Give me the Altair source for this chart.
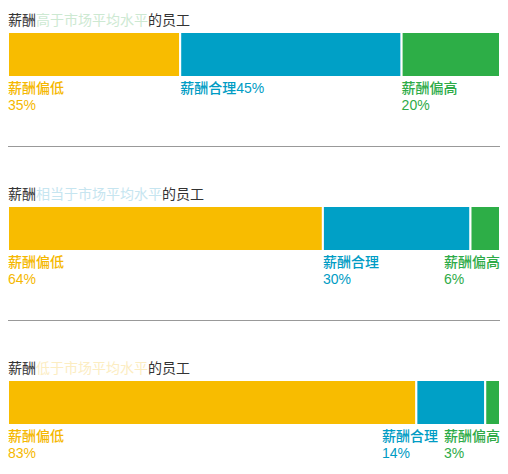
import altair as alt
import pandas as pd

# ---------------- data ----------------
groups = ["高于市场平均水平", "相当于市场平均水平", "低于市场平均水平"]
title_prefix = "薪酬"
title_suffix = "的员工"
categories = ["薪酬偏低", "薪酬合理", "薪酬偏高"]
values_high = [35, 45, 20]
values_equal = [64, 30, 6]
values_low = [83, 14, 3]
group_values = [values_high, values_equal, values_low]
# separator between category name and percentage in each label
label_joiners = [["\n", "", "\n"], ["\n", "\n", "\n"], ["\n", "\n", "\n"]]

bar_colors = ["#F8BC00", "#00A0C6", "#2DAE47"]
label_colors = ["#F5B800", "#009CC4", "#2EAB48"]
title_hint_colors = ["#CDE9D2", "#C6E5F0", "#FCEDC2"]
title_dark = "#333333"

W = 492
H = 458
FS = 14
FONT = "'Liberation Sans', 'Noto Sans CJK SC', sans-serif"


def text_width(s):
    w = 0
    for c in s:
        if ord(c) > 255:
            w += FS
        elif c == "%":
            w += 12.45
        else:
            w += 7.8
    return w


bar_rows, label_rows, title_rows = [], [], []
for g, (grp, vals) in enumerate(zip(groups, group_values)):
    starts = []
    acc = 0
    for i, v in enumerate(vals):
        bar_rows.append({"group": grp, "cat": categories[i], "ci": i, "value": v, "color": bar_colors[i]})
        starts.append(acc)
        acc += v
    texts = [categories[i] + label_joiners[g][i] + f"{vals[i]}%" for i in range(len(vals))]
    widths = [max(text_width(t) for t in s.split("\n")) for s in texts]
    px = [s / 100 * W for s in starts]
    limit = W
    for i in reversed(range(len(px))):
        px[i] = max(0, min(px[i], limit - widths[i]))
        limit = px[i] - 6
    for i in range(len(vals)):
        label_rows.append({"group": grp, "text": texts[i], "x": px[i] / W * 100, "color": label_colors[i]})
    pieces = [(title_prefix, title_dark), (grp, title_hint_colors[g]), (title_suffix, title_dark)]
    off = 0
    for t, c in pieces:
        title_rows.append({"group": grp, "text": t, "x": off / W * 100, "color": c})
        off += text_width(t)

bars_df = pd.DataFrame(bar_rows)
labels_df = pd.DataFrame(label_rows)
titles_df = pd.DataFrame(title_rows)
rules_df = pd.DataFrame({"group": groups[:-1]})

xscale = alt.Scale(domain=[0, 100], nice=False, zero=True)
band = 45
step = 174
yscale = alt.Scale(domain=groups, range=[24, 24 + 2 * step + band],
                   paddingInner=1 - band / step, paddingOuter=0)
Y = alt.Y("group:N", sort=groups, scale=yscale, axis=None)

bars = alt.Chart(bars_df).mark_bar(stroke="white", strokeWidth=2).encode(
    x=alt.X("value:Q", stack="zero", scale=xscale, axis=None),
    y=Y,
    order=alt.Order("ci:Q"),
    color=alt.Color("color:N", scale=None),
)

labels = alt.Chart(labels_df).mark_text(
    align="left", baseline="top", dy=27, font=FONT, fontSize=FS, fontWeight=500,
    lineBreak="\n", lineHeight=17.5,
).encode(
    x=alt.X("x:Q", scale=xscale, axis=None),
    y=Y,
    text="text:N",
    color=alt.Color("color:N", scale=None),
)

titles = alt.Chart(titles_df).mark_text(
    align="left", baseline="middle", dy=-34, font=FONT, fontSize=FS,
).encode(
    x=alt.X("x:Q", scale=xscale, axis=None),
    y=Y,
    text="text:N",
    color=alt.Color("color:N", scale=None),
)

rules = alt.Chart(rules_df).mark_rule(color="#999999", strokeWidth=1, yOffset=92).encode(
    y=Y,
    x=alt.value(0),
    x2=alt.value(W),
)

chart = alt.layer(bars, rules, titles, labels).properties(
    width=W, height=H, autosize="none",
    padding={"left": 0, "top": 0, "right": 0, "bottom": 0},
).configure_view(stroke=None)

chart.save("out.html", embed_options={"renderer": "svg", "actions": False})
